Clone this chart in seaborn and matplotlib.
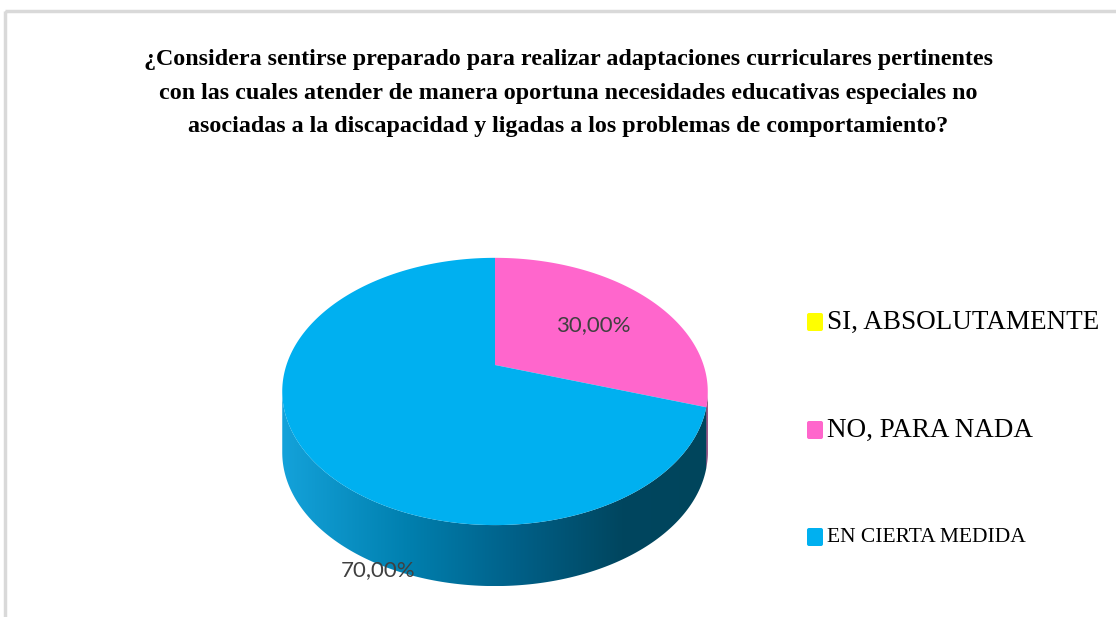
import numpy as np
import seaborn as sns
import matplotlib.pyplot as plt
from matplotlib.patches import Polygon, FancyBboxPatch, Rectangle
from matplotlib.colors import LinearSegmentedColormap

# data
categories = ["SI, ABSOLUTAMENTE", "NO, PARA NADA", "EN CIERTA MEDIDA"]
values = [0.0, 30.0, 70.0]
colors = ["#FFFF00", "#FF66CC", "#00B0F0"]
title = ("¿Considera sentirse preparado para realizar adaptaciones curriculares pertinentes\n"
         "con las cuales atender de manera oportuna necesidades educativas especiales no\n"
         "asociadas a la discapacidad y ligadas a los problemas de comportamiento?")

sns.set_theme(style="white")
plt.rcParams['font.family'] = ['DejaVu Sans']

W, H = 1116, 617
fig = plt.figure(figsize=(W / 100, H / 100), dpi=100)
ax = fig.add_axes([0, 0, 1, 1])
ax.set_xlim(0, W)
ax.set_ylim(H, 0)
ax.axis('off')

# chart frame
ax.add_patch(Rectangle((5, 11), W + 20, H + 20, fill=False, edgecolor="#d9d9d9", lw=2.5))

# 3d pie: top face in perspective, side wall dropped straight down
cx, cy = 495, 365
elev = np.radians(38)
se, ce = np.sin(elev), np.cos(elev)
D, f = 3.98, 830
wall = 61


def proj(t):
    t = np.asarray(t, dtype=float)
    X, Y = np.cos(t), np.sin(t)
    depth = D + Y * ce
    return cx + f * X / depth, cy - f * Y * se / depth


total = sum(values)
start = np.pi / 2
slices = []
for cat, v, c in zip(categories, values, colors):
    ang = 2 * np.pi * v / total
    slices.append((cat, v, c, start - ang, start))
    start -= ang

# visible wall: between the two widest points of the rim
t_w = np.arcsin(ce / D)
vis_lo, vis_hi = np.pi + t_w, 2 * np.pi - t_w

side_cmaps = {
    "#00B0F0": LinearSegmentedColormap.from_list("b", [(0.0, "#14a2da"), (0.3, "#007fae"),
                                                       (0.55, "#006088"), (0.8, "#00465f"),
                                                       (1.0, "#00455c")]),
    "#FF66CC": LinearSegmentedColormap.from_list("p", ["#c0409a", "#7a2060"]),
}
grad = np.linspace(0, 1, 256).reshape(1, -1)
x_all, y_all = proj(np.linspace(0, 2 * np.pi, 400))
for cat, v, c, t0, t1 in slices:
    if v <= 0:
        continue
    lo, hi = t0 % (2 * np.pi), t1 % (2 * np.pi)
    if hi <= lo:
        hi += 2 * np.pi
    for shift in (0, 2 * np.pi, -2 * np.pi):
        a, b = max(lo + shift, vis_lo), min(hi + shift, vis_hi)
        if b <= a:
            continue
        xt, yt = proj(np.linspace(a, b, 200))
        pts = np.concatenate([np.column_stack([xt, yt]),
                              np.column_stack([xt[::-1], yt[::-1] + wall])])
        poly = Polygon(pts, closed=True, facecolor="none", edgecolor="none")
        ax.add_patch(poly)
        im = ax.imshow(grad, cmap=side_cmaps[c], aspect='auto', zorder=1,
                       extent=[x_all.min(), x_all.max(), y_all.max() + wall, cy - 120])
        im.set_clip_path(poly)

# top face
for cat, v, c, t0, t1 in slices:
    if v <= 0:
        continue
    x, y = proj(np.linspace(t1, t0, 400))
    pts = np.vstack([[cx, cy], np.column_stack([x, y])])
    ax.add_patch(Polygon(pts, closed=True, facecolor=c, edgecolor="none", zorder=2))

# data labels
lbl = dict(fontsize=16, color="#404040", family="Lato", ha="center", va="center", zorder=3)
ax.text(593, 325, f"{values[1]:.2f}%".replace(".", ","), **lbl)
ax.text(378, 570, f"{values[2]:.2f}%".replace(".", ","), **lbl)

# title
ax.text(568, 93, title, ha="center", va="center", fontsize=17.3, fontweight="bold",
        family="Liberation Serif", color="black", linespacing=1.8)

# legend
leg_y = [322, 430, 537]
leg_size = [19.5, 19.5, 15.5]
for cat, c, y, fs in zip(categories, colors, leg_y, leg_size):
    ax.add_patch(FancyBboxPatch((807, y - 9), 16, 18, boxstyle="round,pad=0,rounding_size=2",
                                facecolor=c, edgecolor="none"))
    ax.text(827, y, cat, fontsize=fs, family="Liberation Serif", color="black",
            ha="left", va="center")

fig.savefig("out.png", dpi=100)
